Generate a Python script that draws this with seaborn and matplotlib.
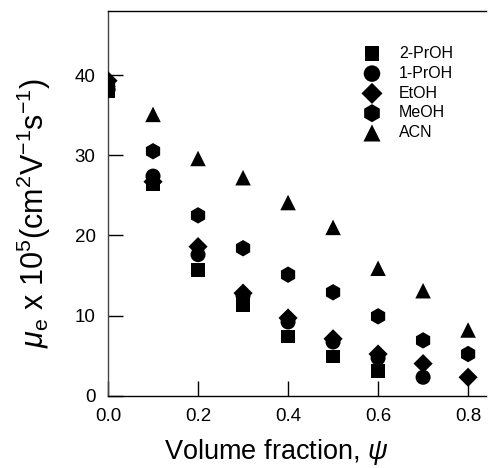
import numpy as np
import pandas as pd
import seaborn as sns
import matplotlib.pyplot as plt

# Datos
psi = [0.0, 0.1, 0.2, 0.3, 0.4, 0.5, 0.6, 0.7, 0.8]
prOH_2 = [38.0, 26.4, 15.7, 11.3, 7.4, 4.9, 3.1]
prOH_1 = [38.2, 27.4, 17.6, 12.5, 9.2, 6.7, 4.7, 2.3]
etOH = [39.3, 26.7, 18.6, 12.8, 9.7, 7.1, 5.2, 4.0, 2.3]
meOH = [38.5, 30.5, 22.5, 18.4, 15.1, 12.9, 9.9, 6.9, 5.2]
acn = [39.5, 35.1, 29.6, 27.2, 24.1, 21.0, 15.9, 13.1, 8.2]

solvents = ['2-PrOH', '1-PrOH', 'EtOH', 'MeOH', 'ACN']
markers = {'2-PrOH': 's', '1-PrOH': 'o', 'EtOH': 'D', 'MeOH': 'h', 'ACN': '^'}
sizes = {'2-PrOH': 95, '1-PrOH': 117, 'EtOH': 95, 'MeOH': 140, 'ACN': 125}


def build_df():
    rows = []
    for name, vals in zip(solvents, [prOH_2, prOH_1, etOH, meOH, acn]):
        for x, y in zip(psi, vals):
            rows.append({'psi': x, 'mu': y, 'solvent': name})
    return pd.DataFrame(rows)


def plot(df):
    sns.set_style("ticks")
    plt.rcParams['font.family'] = ['Liberation Sans', 'DejaVu Sans']
    plt.rcParams['mathtext.fontset'] = 'custom'
    plt.rcParams['mathtext.rm'] = 'Liberation Sans'
    plt.rcParams['mathtext.it'] = 'Liberation Sans:italic'
    for k in ['text.color', 'axes.labelcolor', 'xtick.color', 'ytick.color']:
        plt.rcParams[k] = 'black'

    fig = plt.figure(figsize=(4.91, 4.68), dpi=100)
    ax = fig.add_axes([0.22, 0.1545, 0.77, 0.822])

    for name in solvents:
        sub = df[df['solvent'] == name]
        sns.scatterplot(data=sub, x='psi', y='mu', marker=markers[name],
                        s=sizes[name], color='black', edgecolor='none',
                        label=name, ax=ax, zorder=3)

    ax.set_xlim(0, 0.84)
    ax.set_ylim(0, 48)
    ax.set_xticks([0.0, 0.2, 0.4, 0.6, 0.8])
    ax.set_xticklabels(['0.0', '0.2', '0.4', '0.6', '0.8'])
    ax.set_yticks([0, 10, 20, 30, 40])
    ax.tick_params(direction='in', length=11, width=1, labelsize=13.5)
    ax.tick_params(axis='x', pad=9)
    ax.tick_params(axis='y', pad=9)

    ax.spines['right'].set_visible(False)
    for s in ['left', 'top', 'bottom']:
        ax.spines[s].set_linewidth(1)
        ax.spines[s].set_color('black')
    ax.spines['left'].set_color('#444444')

    ax.set_xlabel(r'Volume fraction, $\psi$', fontsize=19.5)
    ax.set_ylabel(r'$\mu_{\rm e}$ x 10$^5$(cm$^2$V$^{-1}$s$^{-1}$)',
                  fontsize=22)
    ax.xaxis.set_label_coords(0.444, -0.107)
    ax.yaxis.set_label_coords(-0.145, 0.475)

    ax.legend(loc='upper left', bbox_to_anchor=(364 / 491, 1 - 46 / 468),
              bbox_transform=fig.transFigure, frameon=False,
              fontsize=11.5, handletextpad=1.2, labelspacing=0.3,
              handlelength=1.0, borderpad=0, borderaxespad=0,
              markerscale=1.1)

    fig.savefig('out.png', dpi=100)
    plt.close(fig)


def main():
    df = build_df()
    plot(df)


if __name__ == "__main__":
    main()
